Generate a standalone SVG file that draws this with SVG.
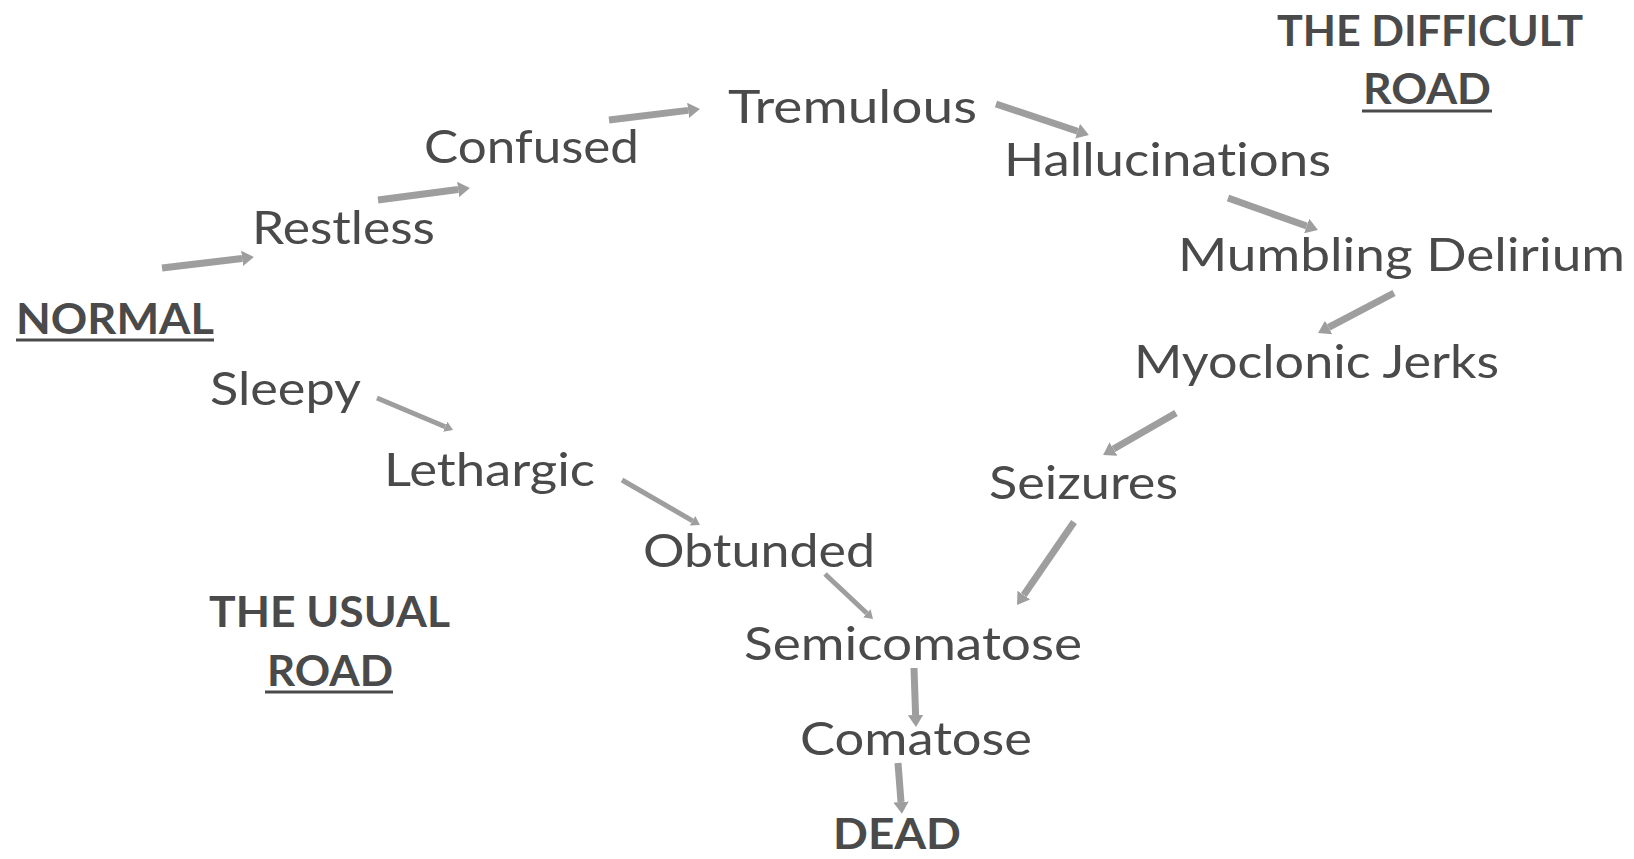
<svg xmlns="http://www.w3.org/2000/svg" width="1634" height="859" viewBox="0 0 1634 859">
<style>
.lbl{font-family:Lato,"Open Sans","Liberation Sans",sans-serif;font-size:46px;fill:#4a4a4a;font-variant-ligatures:none}
.ttl{font-family:Lato,"Open Sans","Liberation Sans",sans-serif;font-size:42px;font-weight:bold;fill:#4a4a4a;font-variant-ligatures:none}
.ul{stroke:#4a4a4a;stroke-width:3}
.arr{stroke:#9e9e9e;stroke-width:7;fill:none;marker-end:url(#ah)}
.thin{stroke-width:5}
</style>
<defs>
<marker id="ah" viewBox="0 0 10 10" refX="0" refY="5" markerWidth="1.7" markerHeight="2.2" markerUnits="strokeWidth" preserveAspectRatio="none" orient="auto">
<path d="M0,0 L10,5 L0,10 z" fill="#9e9e9e"/>
</marker>
</defs>
<rect width="1634" height="859" fill="#ffffff"/>
<g id="connectors">
<line class="arr" x1="162" y1="268" x2="242.1" y2="258.4"/>
<line class="arr" x1="378" y1="200" x2="458.1" y2="189.5"/>
<line class="arr" x1="609" y1="120" x2="688.1" y2="110.4"/>
<line class="arr" x1="996" y1="104" x2="1077.6" y2="131.2"/>
<line class="arr" x1="1228" y1="198" x2="1306.7" y2="226"/>
<line class="arr" x1="1394" y1="293" x2="1328.6" y2="327.4"/>
<line class="arr" x1="1176" y1="413" x2="1113.4" y2="449"/>
<line class="arr" x1="1074" y1="522" x2="1023.8" y2="595.1"/>
<line class="arr thin" x1="825" y1="574" x2="866.8" y2="613.2"/>
<line class="arr" x1="914" y1="668" x2="915.6" y2="715"/>
<line class="arr" x1="898" y1="763" x2="901" y2="802"/>
<line class="arr thin" x1="377" y1="398" x2="445.2" y2="426.7"/>
<line class="arr thin" x1="622" y1="480" x2="692.6" y2="520.8"/>
</g>
<g id="normal"><text class="ttl" x="16" y="334" textLength="198" lengthAdjust="spacingAndGlyphs">NORMAL</text><line class="ul" x1="16" y1="340" x2="214" y2="340"/></g>
<g id="restless"><text class="lbl" x="252" y="244" textLength="183" lengthAdjust="spacingAndGlyphs">Restless</text></g>
<g id="confused"><text class="lbl" x="424" y="163" textLength="215" lengthAdjust="spacingAndGlyphs">Confused</text></g>
<g id="tremulous"><text class="lbl" x="728" y="123" textLength="249" lengthAdjust="spacingAndGlyphs">Tremulous</text></g>
<g id="hallucinations"><text class="lbl" x="1004" y="176" textLength="327" lengthAdjust="spacingAndGlyphs">Hallucinations</text></g>
<g id="mumbling"><text class="lbl" x="1178" y="271" textLength="447" lengthAdjust="spacingAndGlyphs">Mumbling Delirium</text></g>
<g id="myoclonic"><text class="lbl" x="1134" y="378" textLength="365" lengthAdjust="spacingAndGlyphs">Myoclonic Jerks</text></g>
<g id="seizures"><text class="lbl" x="989" y="499" textLength="189" lengthAdjust="spacingAndGlyphs">Seizures</text></g>
<g id="sleepy"><text class="lbl" x="210" y="405" textLength="151" lengthAdjust="spacingAndGlyphs">Sleepy</text></g>
<g id="lethargic"><text class="lbl" x="384" y="486" textLength="211" lengthAdjust="spacingAndGlyphs">Lethargic</text></g>
<g id="obtunded"><text class="lbl" x="643" y="567" textLength="232" lengthAdjust="spacingAndGlyphs">Obtunded</text></g>
<g id="semicomatose"><text class="lbl" x="744" y="660" textLength="338" lengthAdjust="spacingAndGlyphs">Semicomatose</text></g>
<g id="comatose"><text class="lbl" x="800" y="755" textLength="232" lengthAdjust="spacingAndGlyphs">Comatose</text></g>
<g id="dead"><text class="ttl" x="833" y="849" textLength="128" lengthAdjust="spacingAndGlyphs">DEAD</text></g>
<g id="usual-road"><text class="ttl" x="209" y="627" textLength="241" lengthAdjust="spacingAndGlyphs">THE USUAL</text><text class="ttl" x="267" y="686" textLength="126" lengthAdjust="spacingAndGlyphs">ROAD</text><line class="ul" x1="265" y1="692" x2="393" y2="692"/></g>
<g id="difficult-road"><text class="ttl" x="1277" y="46" textLength="306" lengthAdjust="spacingAndGlyphs">THE DIFFICULT</text><text class="ttl" x="1363" y="104" textLength="128" lengthAdjust="spacingAndGlyphs">ROAD</text><line class="ul" x1="1362" y1="111" x2="1492" y2="111"/></g>
</svg>
